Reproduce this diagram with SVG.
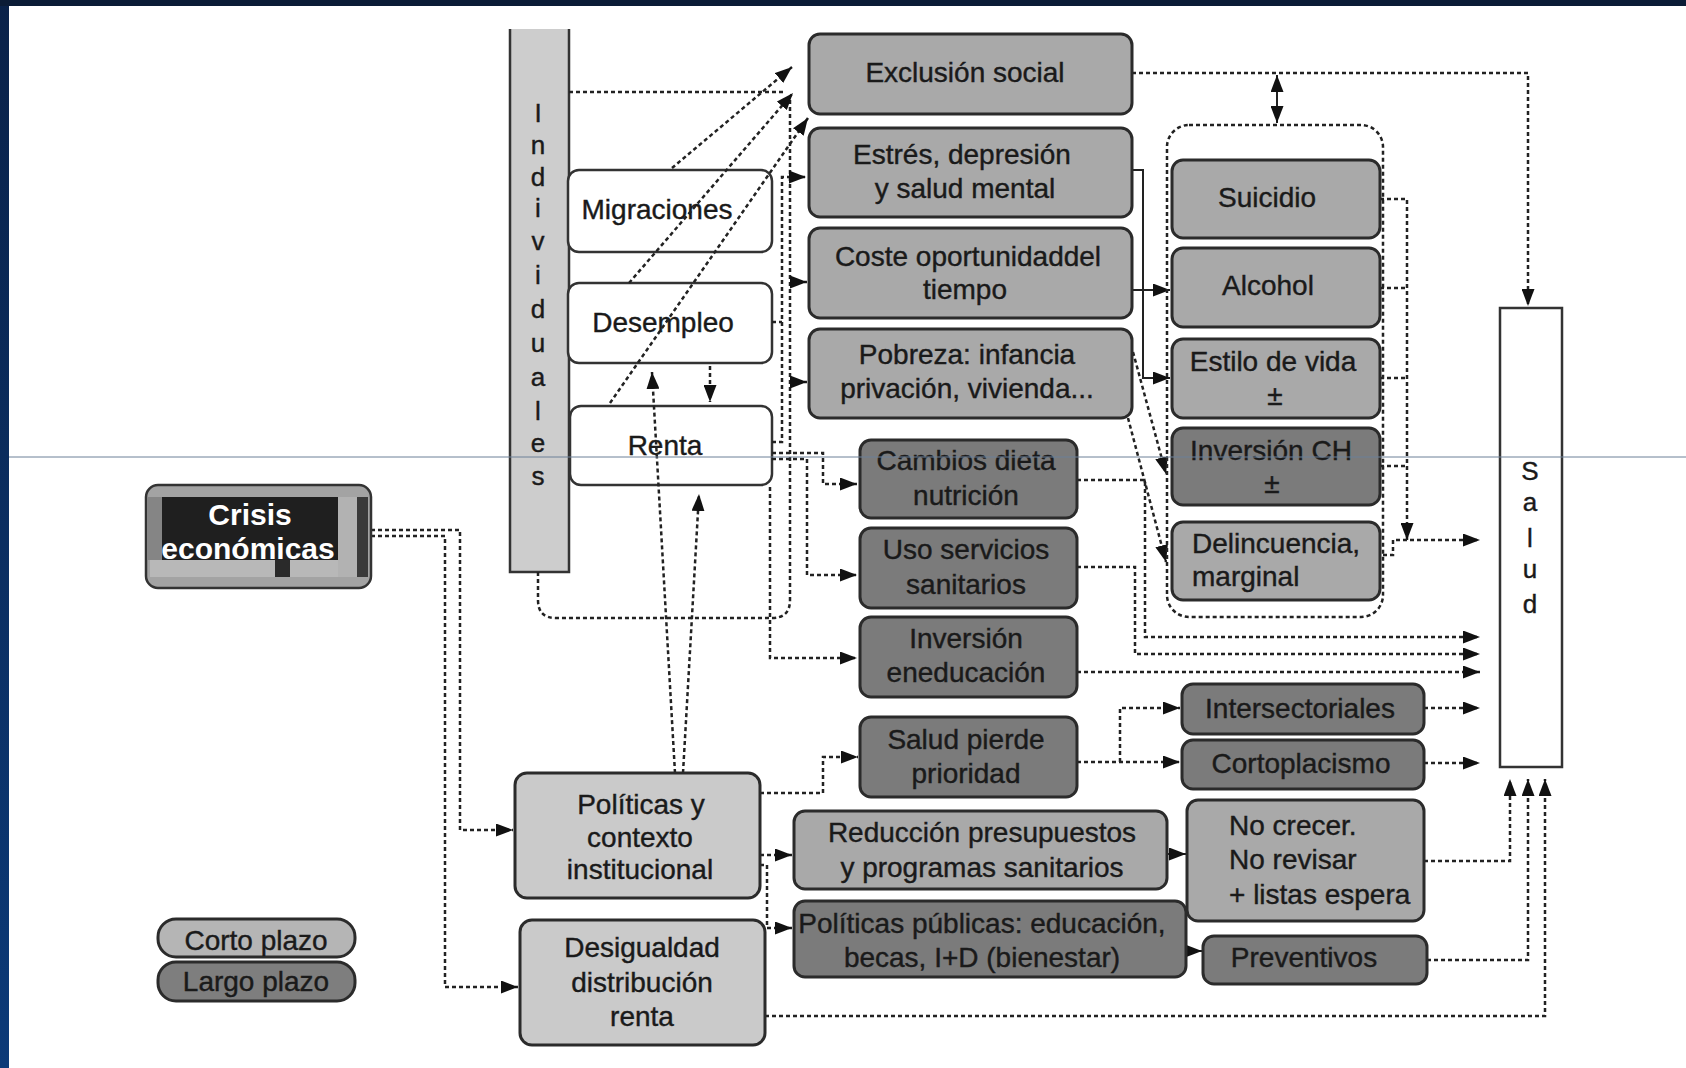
<svg xmlns="http://www.w3.org/2000/svg" width="1686" height="1068" viewBox="0 0 1686 1068">
<style>
.box{stroke:#2b2b2b;stroke-width:3}
.wb{fill:#fff;stroke:#333;stroke-width:2.5}
.med{fill:#a9a9a9}
.dark{fill:#7b7b7b}
.light{fill:#cacaca}
.t{font-family:"Liberation Sans",Arial,sans-serif;font-size:28px;fill:#1a1a1a;stroke:#1a1a1a;stroke-width:0.4;text-anchor:middle}
.tl{text-anchor:start}
.v{font-size:26px}
.c{fill:none;stroke:#222;stroke-width:2.5;stroke-dasharray:4 3}
.s{fill:none;stroke:#222;stroke-width:2}
</style>
<defs>
<marker id="ah" viewBox="0 0 17 13" refX="17" refY="6.5" markerWidth="17" markerHeight="13" markerUnits="userSpaceOnUse" orient="auto-start-reverse">
<path d="M0,0 L17,6.5 L0,13 z" fill="#111"/>
</marker>
<linearGradient id="lg" x1="0" y1="0" x2="0" y2="1">
<stop offset="0" stop-color="#0a2249"/>
<stop offset="1" stop-color="#0c3a78"/>
</linearGradient>
</defs>
<rect width="1686" height="1068" fill="#fff"/>
<rect x="0" y="0" width="9" height="1068" fill="url(#lg)"/>
<rect x="0" y="0" width="1686" height="6" fill="#0b1c36"/>

<g id="individuales">
<rect x="510" y="29" width="59" height="543" fill="#cdcdcd"/>
<path d="M510,29 V572 H569 V29" fill="none" stroke="#333" stroke-width="2.5"/>
<g class="t v">
<text x="538" y="122">I</text><text x="538" y="154">n</text><text x="538" y="186">d</text><text x="538" y="217">i</text><text x="538" y="250">v</text><text x="538" y="284">i</text><text x="538" y="318">d</text><text x="538" y="352">u</text><text x="538" y="386">a</text><text x="538" y="420">l</text><text x="538" y="452">e</text><text x="538" y="485">s</text>
</g>
</g>

<g id="migraciones"><rect class="wb" x="568" y="170" width="204" height="82" rx="11"/><text class="t" x="657" y="219">Migraciones</text></g>
<g id="desempleo"><rect class="wb" x="568" y="283" width="204" height="80" rx="11"/><text class="t" x="663" y="332">Desempleo</text></g>
<g id="renta"><rect class="wb" x="570" y="406" width="202" height="79" rx="11"/><text class="t" x="665" y="455">Renta</text></g>

<g id="connectors">
<path class="c" d="M371,530 H460 V830 H513" marker-end="url(#ah)"/>
<path class="c" d="M371,536 H445 V987 H518" marker-end="url(#ah)"/>
<path class="c" d="M569,92 H786"/>
<path class="c" d="M538,572 V600 Q538,618 556,618 H772 Q790,618 790,600 V100"/>
<path class="c" d="M790,282 H807" marker-end="url(#ah)"/>
<path class="c" d="M790,382 H807" marker-end="url(#ah)"/>
<path class="c" d="M672,168 L792,67" marker-end="url(#ah)"/>
<path class="c" d="M629,283 L793,93" marker-end="url(#ah)"/>
<path class="c" d="M610,403 L808,118" marker-end="url(#ah)"/>
<path class="c" d="M772,322 H782"/>
<path class="c" d="M772,442 H782 V177 H806" marker-end="url(#ah)"/>
<path class="c" d="M772,453 H823 V484 H857" marker-end="url(#ah)"/>
<path class="c" d="M772,459 H807 V575 H857" marker-end="url(#ah)"/>
<path class="c" d="M770,487 V658 H857" marker-end="url(#ah)"/>
<path class="c" d="M710,366 V402" marker-end="url(#ah)"/>
<path class="c" d="M675,773 L652,372" marker-end="url(#ah)"/>
<path class="c" d="M683,773 L699,494" marker-end="url(#ah)"/>
<path class="c" d="M1132,73 H1528 V306" marker-end="url(#ah)"/>
<path class="s" d="M1277,75 V123" stroke-width="2.5" marker-start="url(#ah)" marker-end="url(#ah)"/>
<path class="s" d="M1132,170 H1143 V378 H1170" marker-end="url(#ah)"/>
<path class="s" d="M1132,290 H1170" marker-end="url(#ah)"/>
<path class="c" d="M1133,352 L1166,474" marker-end="url(#ah)"/>
<path class="c" d="M1128,418 L1166,562" marker-end="url(#ah)"/>
<path class="c" d="M1380,199 H1407 V540" marker-end="url(#ah)"/>
<path class="c" d="M1380,288 H1407 M1380,378 H1407 M1380,466 H1407"/>
<path class="c" d="M1383,555 H1393 V540 H1480" marker-end="url(#ah)"/>
<path class="c" d="M1077,480 H1145 V637 H1480" marker-end="url(#ah)"/>
<path class="c" d="M1077,567 H1135 V654 H1480" marker-end="url(#ah)"/>
<path class="c" d="M1077,672 H1480" marker-end="url(#ah)"/>
<path class="c" d="M1077,762 H1180" marker-end="url(#ah)"/>
<path class="c" d="M1120,762 V708 H1180" marker-end="url(#ah)"/>
<path class="c" d="M1424,708 H1480" marker-end="url(#ah)"/>
<path class="c" d="M1424,763 H1480" marker-end="url(#ah)"/>
<path class="c" d="M760,793 H823 V757 H858" marker-end="url(#ah)"/>
<path class="c" d="M760,855 H792" marker-end="url(#ah)"/>
<path class="c" d="M760,865 H767 V928 H792" marker-end="url(#ah)"/>
<path class="s" d="M1167,854 H1186" stroke-width="2.5" marker-end="url(#ah)"/>
<path class="s" d="M1186,951 H1202" stroke-width="2.5" marker-end="url(#ah)"/>
<path class="c" d="M1424,861 H1510 V779" marker-end="url(#ah)"/>
<path class="c" d="M1427,960 H1528 V779" marker-end="url(#ah)"/>
<path class="c" d="M765,1016 H1545 V779" marker-end="url(#ah)"/>
</g>

<g id="crisis">
<rect x="146" y="485" width="225" height="103" rx="12" fill="#a3a3a3" stroke="#333" stroke-width="2.5"/>
<rect x="148" y="497" width="14" height="63" fill="#858585"/>
<rect x="162" y="497" width="176" height="63" fill="#1f1f1f"/>
<rect x="338" y="497" width="19" height="80" fill="#b2b2b2"/>
<rect x="357" y="497" width="11" height="80" fill="#3a3a3a"/>
<rect x="150" y="560" width="188" height="17" fill="#b8b8b8"/>
<rect x="275" y="560" width="15" height="17" fill="#2a2a2a"/>
<text x="250" y="525" font-family="Liberation Sans, Arial, sans-serif" font-size="30" font-weight="bold" fill="#fff" text-anchor="middle">Crisis</text>
<text x="248" y="559" font-family="Liberation Sans, Arial, sans-serif" font-size="30" font-weight="bold" fill="#fff" text-anchor="middle">económicas</text>
</g>

<g id="exclusion"><rect class="box med" x="809" y="34" width="323" height="80" rx="11"/><text class="t" x="965" y="82">Exclusión social</text></g>
<g id="estres"><rect class="box med" x="809" y="128" width="323" height="89" rx="11"/><text class="t" x="962" y="164">Estrés, depresión</text><text class="t" x="965" y="198">y salud mental</text></g>
<g id="coste"><rect class="box med" x="809" y="228" width="323" height="90" rx="11"/><text class="t" x="968" y="266">Coste oportunidaddel</text><text class="t" x="965" y="299">tiempo</text></g>
<g id="pobreza"><rect class="box med" x="809" y="329" width="323" height="89" rx="11"/><text class="t" x="967" y="364">Pobreza: infancia</text><text class="t" x="967" y="398">privación, vivienda...</text></g>

<g id="cambios"><rect class="box dark" x="860" y="440" width="217" height="78" rx="11"/><text class="t" x="966" y="470">Cambios dieta</text><text class="t" x="966" y="505">nutrición</text></g>
<g id="uso"><rect class="box dark" x="860" y="528" width="217" height="80" rx="11"/><text class="t" x="966" y="559">Uso servicios</text><text class="t" x="966" y="594">sanitarios</text></g>
<g id="inversion-educacion"><rect class="box dark" x="860" y="617" width="217" height="80" rx="11"/><text class="t" x="966" y="648">Inversión</text><text class="t" x="966" y="682">eneducación</text></g>
<g id="salud-pierde"><rect class="box dark" x="860" y="717" width="217" height="80" rx="11"/><text class="t" x="966" y="749">Salud pierde</text><text class="t" x="966" y="783">prioridad</text></g>

<g id="conductas">
<rect x="1167" y="125" width="216" height="492" rx="22" fill="none" stroke="#222" stroke-width="2.5" stroke-dasharray="4 3"/>
<g id="suicidio"><rect class="box med" x="1172" y="160" width="208" height="78" rx="11"/><text class="t" x="1267" y="207">Suicidio</text></g>
<g id="alcohol"><rect class="box med" x="1172" y="248" width="208" height="79" rx="11"/><text class="t" x="1268" y="295">Alcohol</text></g>
<g id="estilo"><rect class="box med" x="1172" y="339" width="208" height="79" rx="11"/><text class="t" x="1273" y="371">Estilo de vida</text><text class="t" x="1275" y="405">±</text></g>
<g id="inversion-ch"><rect class="box dark" x="1172" y="428" width="208" height="77" rx="11"/><text class="t" x="1271" y="460">Inversión CH</text><text class="t" x="1272" y="493">±</text></g>
<g id="delincuencia"><rect class="box med" x="1172" y="522" width="208" height="78" rx="11"/><text class="t tl" x="1192" y="553">Delincuencia,</text><text class="t tl" x="1192" y="586">marginal</text></g>
</g>

<g id="salud">
<rect x="1500" y="308" width="62" height="459" fill="#fff" stroke="#333" stroke-width="2.5"/>
<g class="t v"><text x="1530" y="480">S</text><text x="1530" y="511">a</text><text x="1530" y="547">l</text><text x="1530" y="578">u</text><text x="1530" y="613">d</text></g>
</g>

<g id="intersectoriales"><rect class="box dark" x="1182" y="684" width="242" height="50" rx="11"/><text class="t" x="1300" y="718">Intersectoriales</text></g>
<g id="cortoplacismo"><rect class="box dark" x="1182" y="740" width="242" height="49" rx="11"/><text class="t" x="1301" y="773">Cortoplacismo</text></g>
<g id="no-crecer"><rect class="box med" x="1187" y="800" width="237" height="121" rx="11"/><text class="t tl" x="1229" y="835">No crecer.</text><text class="t tl" x="1229" y="869">No revisar</text><text class="t tl" x="1229" y="904">+ listas espera</text></g>
<g id="preventivos"><rect class="box dark" x="1203" y="936" width="224" height="48" rx="11"/><text class="t" x="1304" y="967">Preventivos</text></g>

<g id="reduccion"><rect class="box med" x="794" y="811" width="373" height="78" rx="11"/><text class="t" x="982" y="842">Reducción presupuestos</text><text class="t" x="982" y="877">y programas sanitarios</text></g>
<g id="politicas-publicas"><rect class="box dark" x="794" y="901" width="392" height="76" rx="11"/><text class="t" x="982" y="933">Políticas públicas: educación,</text><text class="t" x="982" y="967">becas, I+D (bienestar)</text></g>

<g id="politicas"><rect class="box light" x="515" y="773" width="245" height="125" rx="12"/><text class="t" x="641" y="814">Políticas y</text><text class="t" x="640" y="847">contexto</text><text class="t" x="640" y="879">institucional</text></g>
<g id="desigualdad"><rect class="box light" x="520" y="920" width="245" height="125" rx="12"/><text class="t" x="642" y="957">Desigualdad</text><text class="t" x="642" y="992">distribución</text><text class="t" x="642" y="1026">renta</text></g>

<g id="legend">
<rect class="box" x="158" y="919" width="197" height="38" rx="18" fill="#b5b5b5"/><text class="t" x="256" y="950">Corto plazo</text>
<rect class="box" x="158" y="962" width="197" height="39" rx="18" fill="#7e7e7e"/><text class="t" x="256" y="991">Largo plazo</text>
</g>

<line x1="9" y1="457" x2="1686" y2="457" stroke="#6d8098" stroke-width="1"/>
</svg>
